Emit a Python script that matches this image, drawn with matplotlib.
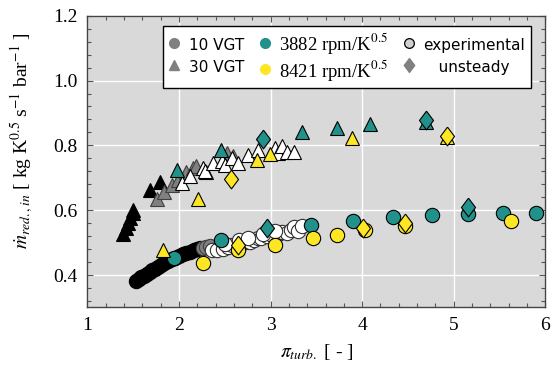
import matplotlib
matplotlib.use("Agg")
import matplotlib.pyplot as plt
from matplotlib.lines import Line2D
from matplotlib.ticker import MultipleLocator

plt.rcParams['font.family'] = ['Liberation Serif', 'DejaVu Serif']
plt.rcParams['mathtext.fontset'] = 'stix'

# ---------------- data ----------------
# experimental, 10 VGT (circles), shaded by speed
exp10_black_x = [1.53, 1.56, 1.59, 1.62, 1.65, 1.68, 1.71, 1.74, 1.77, 1.80, 1.84, 1.88,
                 1.92, 1.96, 2.00, 2.04, 2.08, 2.12, 2.16, 2.20, 2.23]
exp10_black_y = [0.383, 0.388, 0.393, 0.398, 0.404, 0.409, 0.414, 0.419, 0.424, 0.430, 0.436, 0.442,
                 0.448, 0.454, 0.459, 0.464, 0.468, 0.472, 0.476, 0.479, 0.483]
exp10_gray_x = [2.26, 2.30, 2.34]
exp10_gray_y = [0.484, 0.487, 0.489]
exp10_white_x = [2.36, 2.42, 2.48, 2.54, 2.58, 2.63, 2.68, 2.72, 2.78, 2.82, 2.86, 2.90, 2.96,
                 3.02, 3.08, 3.12, 3.18, 3.22, 3.26, 3.30, 3.34, 2.50, 2.65, 2.75, 2.92, 3.05]
exp10_white_y = [0.476, 0.478, 0.481, 0.486, 0.492, 0.497, 0.500, 0.503, 0.501, 0.508, 0.514, 0.513, 0.520,
                 0.523, 0.527, 0.533, 0.530, 0.540, 0.548, 0.536, 0.552, 0.495, 0.507, 0.515, 0.525, 0.535]

# experimental, 30 VGT (triangles)
exp30_black_x = [1.384, 1.42, 1.445, 1.47, 1.493, 1.50, 1.682, 1.79]
exp30_black_y = [0.528, 0.545, 0.559, 0.575, 0.592, 0.602, 0.661, 0.686]
exp30_gray_x = [1.755, 1.835, 1.919, 1.99, 2.075, 2.155, 2.18, 2.52, 2.59]
exp30_gray_y = [0.636, 0.655, 0.679, 0.694, 0.717, 0.730, 0.735, 0.777, 0.766]
exp30_white_x = [2.028, 2.119, 2.264, 2.30, 2.283, 2.373, 2.465, 2.50, 2.574, 2.647, 2.755, 2.865,
                 3.047, 3.08, 3.12, 3.175, 3.258]
exp30_white_y = [0.684, 0.705, 0.730, 0.717, 0.720, 0.746, 0.751, 0.740, 0.761, 0.746, 0.771, 0.787,
                 0.792, 0.777, 0.797, 0.781, 0.781]

# simulation, 3882 rpm/K^0.5
sim3882_10_x = [1.948, 2.457, 3.44, 3.90, 4.34, 4.76, 5.157, 5.54, 5.896]
sim3882_10_y = [0.4535, 0.507, 0.554, 0.568, 0.578, 0.584, 0.587, 0.591, 0.592]
sim3882_30_x = [1.974, 2.457, 3.338, 3.727, 4.084, 4.70]
sim3882_30_y = [0.723, 0.785, 0.840, 0.854, 0.866, 0.872]

# simulation, 8421 rpm/K^0.5
sim8421_10_x = [2.264, 2.64, 3.047, 3.458, 3.72, 4.03, 4.466, 5.62]
sim8421_10_y = [0.438, 0.477, 0.492, 0.513, 0.524, 0.5375, 0.551, 0.566]
sim8421_30_x = [1.82, 2.21, 2.847, 2.99, 3.89, 4.93]
sim8421_30_y = [0.477, 0.633, 0.756, 0.774, 0.823, 0.826]

# unsteady (diamonds)
uns3882_x = [2.913, 2.956, 4.695, 5.157]
uns3882_y = [0.819, 0.546, 0.877, 0.610]
uns8421_x = [2.567, 2.647, 4.01, 4.466, 4.93]
uns8421_y = [0.6975, 0.494, 0.546, 0.561, 0.828]

legend_labels = ['10 VGT', '30 VGT', '3882 rpm/K$^{0.5}$', '8421 rpm/K$^{0.5}$',
                 'experimental', '   unsteady']

TEAL = '#21918c'
YEL = '#fde725'
GRAY = '#808080'
diamond = [(0, 1), (0.75, 0), (0, -1), (-0.75, 0), (0, 1)]

fig = plt.figure(figsize=(5.57, 3.74), dpi=100)
ax = fig.add_axes([0.157, 0.178, 0.822, 0.780])
ax.set_facecolor('#d9d9d9')
ax.grid(True, which='major', color='white', linewidth=1.0)
ax.set_axisbelow(True)

ms_c = 10.3
ms_t = 9.8
ms_d = 13.5
ew = 0.8

def pts(x, y, marker, fc, ms, z, ec='black'):
    ax.plot(x, y, linestyle='none', marker=marker, markerfacecolor=fc,
            markeredgecolor=ec, markeredgewidth=ew, markersize=ms, zorder=z)

pts(exp10_black_x, exp10_black_y, 'o', 'black', ms_c, 3)
pts(exp10_gray_x, exp10_gray_y, 'o', GRAY, ms_c, 3, '#404040')
pts(exp10_white_x, exp10_white_y, 'o', 'white', ms_c, 3, '#303030')
pts(exp30_black_x, exp30_black_y, '^', 'black', ms_t, 3)
pts(exp30_gray_x, exp30_gray_y, '^', GRAY, ms_t, 3, '#404040')
pts(exp30_white_x, exp30_white_y, '^', 'white', ms_t, 3)

pts(sim3882_10_x, sim3882_10_y, 'o', TEAL, ms_c, 4)
pts(sim3882_30_x, sim3882_30_y, '^', TEAL, ms_t, 4)
pts(sim8421_10_x, sim8421_10_y, 'o', YEL, ms_c, 4)
pts(sim8421_30_x, sim8421_30_y, '^', YEL, ms_t, 4)

pts(uns3882_x, uns3882_y, diamond, TEAL, ms_d, 5)
pts(uns8421_x, uns8421_y, diamond, YEL, ms_d, 5)

ax.set_xlim(1, 6)
ax.set_ylim(0.3, 1.2)
ax.xaxis.set_major_locator(MultipleLocator(1))
ax.xaxis.set_minor_locator(MultipleLocator(0.2))
ax.yaxis.set_major_locator(MultipleLocator(0.2))
ax.yaxis.set_minor_locator(MultipleLocator(0.04))
ax.set_yticks([0.4, 0.6, 0.8, 1.0, 1.2])
ax.set_yticklabels(['0.4', '0.6', '0.8', '1.0', '1.2'])
ax.tick_params(which='both', direction='in', top=True, right=True, color='#555555',
               labelsize=14, pad=7)
ax.tick_params(which='major', length=4, width=0.8)
ax.tick_params(which='minor', length=3, width=0.8)
for s in ax.spines.values():
    s.set_color('#444444')
    s.set_linewidth(1.0)

ax.set_xlabel(r'$\pi_{turb.}$ [ - ]', fontsize=14, labelpad=6)
ax.set_ylabel(r'$\dot{m}_{red.,in}$ [ kg K$^{0.5}$ s$^{-1}$ bar$^{-1}$ ]', fontsize=14)
ax.yaxis.set_label_coords(-0.115, 0.573)

handles = [
    Line2D([], [], linestyle='none', marker='o', color=GRAY, markersize=7),
    Line2D([], [], linestyle='none', marker='^', color=GRAY, markersize=7),
    Line2D([], [], linestyle='none', marker='o', color=TEAL, markersize=7),
    Line2D([], [], linestyle='none', marker='o', color=YEL, markersize=7),
    Line2D([], [], linestyle='none', marker='o', markerfacecolor='#d0d0d0',
           markeredgecolor='black', markeredgewidth=0.9, markersize=7),
    Line2D([], [], linestyle='none', marker=diamond, color=GRAY, markersize=10),
]
leg = ax.legend(handles, legend_labels, ncol=3, loc='upper right',
                bbox_to_anchor=(0.968, 0.965), borderaxespad=0, fancybox=False,
                framealpha=1, edgecolor='black', fontsize=11, handlelength=0.8,
                handleheight=1.7, handletextpad=0.55, columnspacing=0.95,
                labelspacing=0.1, borderpad=0.35)
leg.get_frame().set_linewidth(1.0)
leg.set_zorder(10)
for i, t in enumerate(leg.get_texts()):
    if i in (2, 3):
        t.set_fontfamily(['Liberation Serif', 'DejaVu Serif'])
        t.set_fontsize(13.5)
    else:
        t.set_fontfamily(['DejaVu Sans'])

fig.savefig('out.png', dpi=100)
